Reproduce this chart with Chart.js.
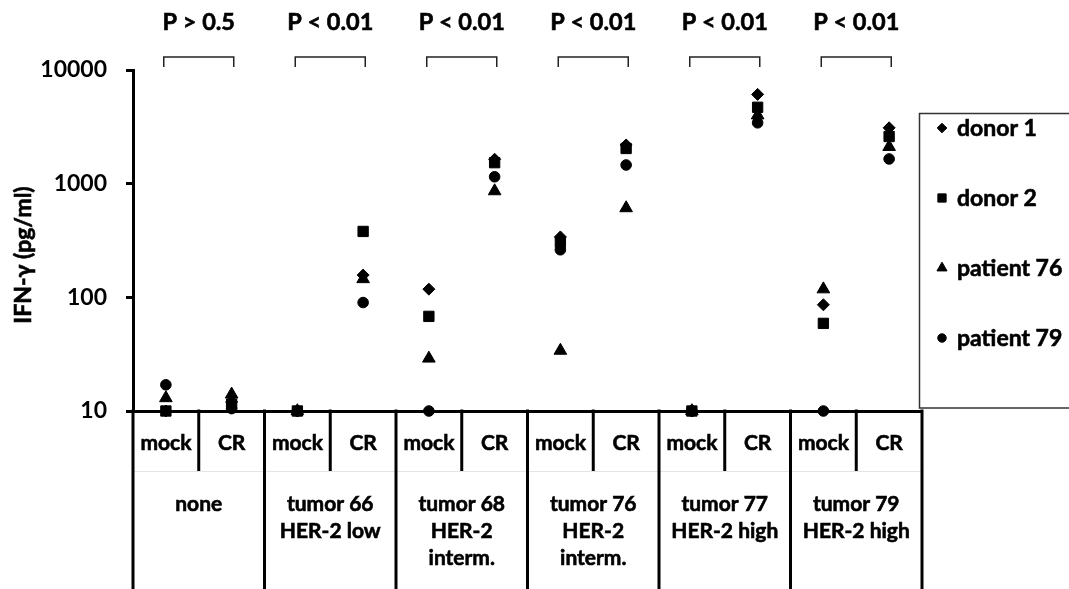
<!DOCTYPE html>
<html>
<head>
<meta charset="utf-8">
<title>IFN-γ release</title>
<script src="https://cdn.jsdelivr.net/npm/chart.js@4/dist/chart.umd.min.js"></script>
<style>
  html, body { margin: 0; padding: 0; background: #ffffff; }
  #c { display: block; }
</style>
</head>
<body>
<canvas id="c" width="1069" height="589"></canvas>
<script>
// Stimulation condition per column (mock-transduced vs. CR-expressing T cells)
const conditions = ['mock', 'CR', 'mock', 'CR', 'mock', 'CR', 'mock', 'CR', 'mock', 'CR', 'mock', 'CR'];

// Target cells: one group spans a mock and a CR column
const targetGroups = [
  ['none'],
  ['tumor 66', 'HER-2 low'],
  ['tumor 68', 'HER-2', 'interm.'],
  ['tumor 76', 'HER-2', 'interm.'],
  ['tumor 77', 'HER-2 high'],
  ['tumor 79', 'HER-2 high']
];

// Significance of mock vs. CR per target
const pValues = ['P > 0.5', 'P < 0.01', 'P < 0.01', 'P < 0.01', 'P < 0.01', 'P < 0.01'];

// IFN-γ (pg/ml) per T-cell donor, one value per column
const donor1    = [10, 12,   10, 157, 118, 1640, 340, 2190, 10, 6100, 86,  3100];
const donor2    = [10, 11.5, 10, 380, 68,  1530, 305, 2040, 10, 4700, 59,  2600];
const patient76 = [13, 14,   10, 145, 29,  860,  34,  610,  10, 4000, 118, 2110];
const patient79 = [17, 10.5, 10, 90,  10,  1150, 262, 1460, 10, 3430, 10,  1650];

const yTicks = [10, 100, 1000, 10000];

const FONT = 'Lato, "DejaVu Sans", sans-serif';

const series = [
  { label: 'donor 1',    data: donor1,    style: 'rectRot',  r: 6 },
  { label: 'donor 2',    data: donor2,    style: 'rect',     r: 7.3 },
  { label: 'patient 76', data: patient76, style: 'triangle', r: 7.3 },
  { label: 'patient 79', data: patient79, style: 'circle',   r: 5.3 }
];

// bold text with a hairline outline for a heavier stroke
function heavyText(ctx, text, x, y) {
  ctx.fillText(text, x, y);
  ctx.lineWidth = 0.6;
  ctx.strokeStyle = '#000';
  ctx.strokeText(text, x, y);
}

// Table-style category axis, p-value brackets, legend box and y title
const decorations = {
  id: 'decorations',
  afterDraw(chart) {
    const ctx = chart.ctx;
    const x = chart.scales.x;
    const area = chart.chartArea;
    const w = (area.right - area.left) / conditions.length;
    const base = area.bottom;
    const rowSplit = base + 60;
    const H = chart.height;

    ctx.save();

    // faint row separator under the condition labels
    ctx.strokeStyle = '#e4e4e4';
    ctx.lineWidth = 1;
    ctx.beginPath();
    ctx.moveTo(area.left, rowSplit + 0.5);
    ctx.lineTo(area.right, rowSplit + 0.5);
    ctx.stroke();

    // column dividers
    ctx.strokeStyle = '#000';
    ctx.lineWidth = 3;
    for (let k = 0; k <= conditions.length; k++) {
      const px = area.left + k * w;
      ctx.beginPath();
      ctx.moveTo(px, base - 1.5);
      ctx.lineTo(px, k % 2 === 0 ? H : rowSplit);
      ctx.stroke();
    }

    ctx.fillStyle = '#000';
    ctx.textAlign = 'center';
    ctx.textBaseline = 'middle';

    // condition row
    ctx.font = 'bold 21px ' + FONT;
    conditions.forEach((c, i) => {
      heavyText(ctx, c, x.getPixelForValue(i), base + 32);
    });

    // target rows
    targetGroups.forEach((lines, g) => {
      const cx = (x.getPixelForValue(2 * g) + x.getPixelForValue(2 * g + 1)) / 2;
      lines.forEach((t, j) => {
        heavyText(ctx, t, cx, base + 93 + j * 27);
      });
    });

    // p-values with brackets
    ctx.font = 'bold 23.5px ' + FONT;
    pValues.forEach((p, g) => {
      const cx = (x.getPixelForValue(2 * g) + x.getPixelForValue(2 * g + 1)) / 2;
      ctx.fillStyle = '#000';
      heavyText(ctx, p, cx, 22);
      ctx.strokeStyle = '#222';
      ctx.lineWidth = 1.5;
      ctx.beginPath();
      ctx.moveTo(cx - 35, 67);
      ctx.lineTo(cx - 35, 57);
      ctx.lineTo(cx + 35, 57);
      ctx.lineTo(cx + 35, 67);
      ctx.stroke();
    });

    // y-axis title
    ctx.save();
    ctx.translate(24, 255);
    ctx.rotate(-Math.PI / 2);
    ctx.font = 'bold 23px ' + FONT;
    ctx.fillStyle = '#000';
    heavyText(ctx, 'IFN-γ (pg/ml)', 0, 0);
    ctx.restore();

    // legend box
    ctx.strokeStyle = '#333';
    ctx.lineWidth = 1.5;
    ctx.strokeRect(919.5, 113.5, 170, 294.5);
    ctx.font = 'bold 23px ' + FONT;
    ctx.textAlign = 'left';
    series.forEach((s, i) => {
      const ly = 128 + i * 70;
      ctx.fillStyle = '#000';
      ctx.strokeStyle = '#000';
      ctx.lineWidth = 1;
      Chart.helpers.drawPoint(ctx, { pointStyle: s.style, radius: s.r * 0.8, rotation: 0, borderWidth: 1 }, 942, ly);
      ctx.fillStyle = '#000';
      heavyText(ctx, s.label, 957, ly + 1);
    });

    ctx.restore();
  }
};

new Chart(document.getElementById('c'), {
  type: 'line',
  data: {
    labels: conditions,
    datasets: series.map(s => ({
      label: s.label,
      data: s.data,
      showLine: false,
      pointStyle: s.style,
      pointRadius: s.r,
      pointHoverRadius: s.r,
      pointBackgroundColor: '#000',
      pointBorderColor: '#000',
      pointBorderWidth: 1,
      clip: false
    }))
  },
  options: {
    responsive: false,
    devicePixelRatio: 1,
    animation: false,
    events: [],
    layout: { padding: { left: 0, top: 70, right: 147, bottom: 0 } },
    plugins: {
      legend: { display: false },
      tooltip: { enabled: false }
    },
    scales: {
      x: {
        type: 'category',
        offset: true,
        ticks: { display: false },
        grid: { display: false },
        border: { display: true, color: '#000', width: 3 },
        afterFit(scale) { scale.height = 178; }
      },
      y: {
        type: 'logarithmic',
        min: 10,
        max: 10000,
        afterBuildTicks(scale) { scale.ticks = yTicks.map(v => ({ value: v })); },
        ticks: {
          color: '#000',
          font: { family: FONT, weight: 'bold', size: 23 },
          padding: 19,
          callback: v => String(v)
        },
        grid: {
          display: true,
          drawOnChartArea: false,
          drawTicks: true,
          tickLength: 7,
          color: '#000',
          lineWidth: 3
        },
        border: { display: true, color: '#000', width: 3 },
        afterFit(scale) { scale.width = 133; }
      }
    }
  },
  plugins: [decorations]
});
</script>
</body>
</html>
